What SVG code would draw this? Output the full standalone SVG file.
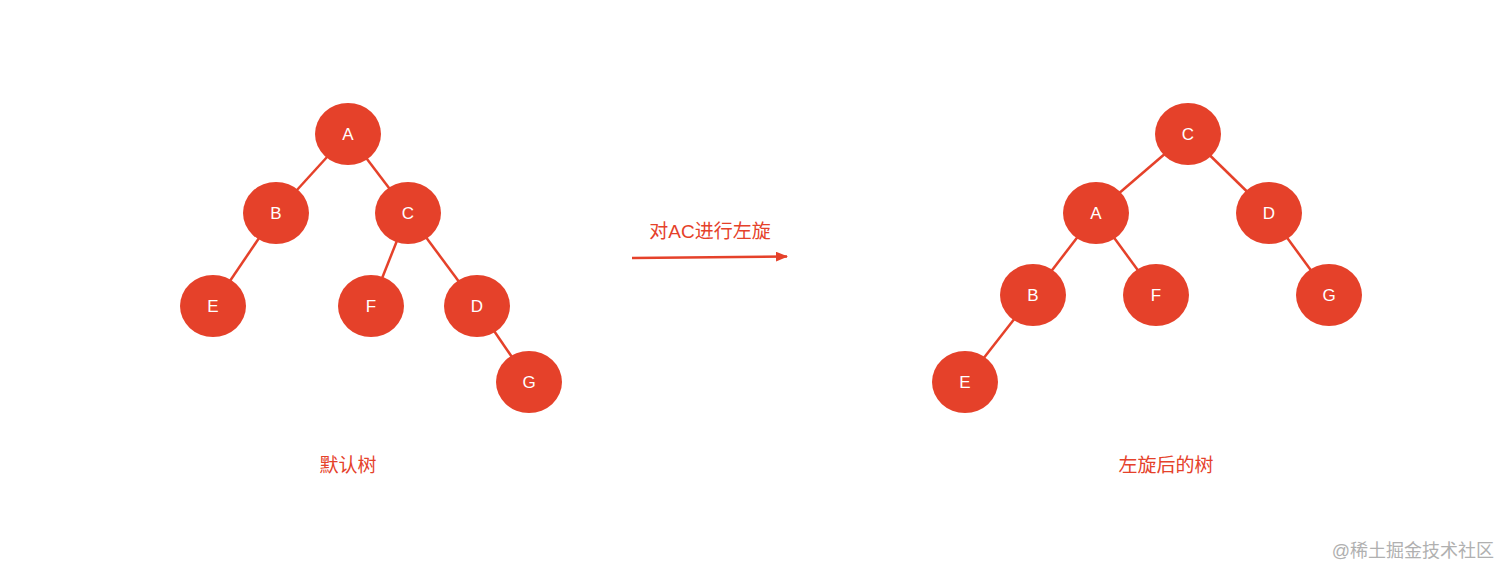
<svg xmlns="http://www.w3.org/2000/svg" width="1512" height="579" viewBox="0 0 1512 579">
<style>
.n ellipse{fill:#E5412A}
.n text{fill:#fff;font-family:"Liberation Sans",Arial,sans-serif;font-size:17px;text-anchor:middle;dominant-baseline:central}
.e line{stroke:#E5412A;stroke-width:2.5}
.lbl{fill:#E5412A;font-family:"Liberation Sans","Noto Sans CJK SC",sans-serif;font-size:19px;text-anchor:middle}
</style>
<defs>
<marker id="ah" markerWidth="12" markerHeight="10" refX="11" refY="5" orient="auto" markerUnits="userSpaceOnUse">
<path d="M0,0 L12,5 L0,10 Z" fill="#E5412A"/>
</marker>
</defs>
<rect width="1512" height="579" fill="#fff"/>
<g id="connectors" class="e">
<line x1="348" y1="134" x2="276" y2="213"/>
<line x1="348" y1="134" x2="408" y2="213"/>
<line x1="276" y1="213" x2="213" y2="306"/>
<line x1="408" y1="213" x2="371" y2="306"/>
<line x1="408" y1="213" x2="477" y2="306"/>
<line x1="477" y1="306" x2="529" y2="382"/>
<line x1="1188" y1="134" x2="1096" y2="213"/>
<line x1="1188" y1="134" x2="1269" y2="213"/>
<line x1="1096" y1="213" x2="1033" y2="295"/>
<line x1="1096" y1="213" x2="1156" y2="295"/>
<line x1="1269" y1="213" x2="1329" y2="295"/>
<line x1="1033" y1="295" x2="965" y2="382"/>
<line x1="632" y1="258" x2="787" y2="256.5" marker-end="url(#ah)"/>
</g>
<g id="L_A" class="n"><ellipse cx="348" cy="134" rx="33" ry="31"/><text x="348" y="134">A</text></g>
<g id="L_B" class="n"><ellipse cx="276" cy="213" rx="33" ry="31"/><text x="276" y="213">B</text></g>
<g id="L_C" class="n"><ellipse cx="408" cy="213" rx="33" ry="31"/><text x="408" y="213">C</text></g>
<g id="L_E" class="n"><ellipse cx="213" cy="306" rx="33" ry="31"/><text x="213" y="306">E</text></g>
<g id="L_F" class="n"><ellipse cx="371" cy="306" rx="33" ry="31"/><text x="371" y="306">F</text></g>
<g id="L_D" class="n"><ellipse cx="477" cy="306" rx="33" ry="31"/><text x="477" y="306">D</text></g>
<g id="L_G" class="n"><ellipse cx="529" cy="382" rx="33" ry="31"/><text x="529" y="382">G</text></g>
<g id="R_C" class="n"><ellipse cx="1188" cy="134" rx="33" ry="31"/><text x="1188" y="134">C</text></g>
<g id="R_A" class="n"><ellipse cx="1096" cy="213" rx="33" ry="31"/><text x="1096" y="213">A</text></g>
<g id="R_D" class="n"><ellipse cx="1269" cy="213" rx="33" ry="31"/><text x="1269" y="213">D</text></g>
<g id="R_B" class="n"><ellipse cx="1033" cy="295" rx="33" ry="31"/><text x="1033" y="295">B</text></g>
<g id="R_F" class="n"><ellipse cx="1156" cy="295" rx="33" ry="31"/><text x="1156" y="295">F</text></g>
<g id="R_G" class="n"><ellipse cx="1329" cy="295" rx="33" ry="31"/><text x="1329" y="295">G</text></g>
<g id="R_E" class="n"><ellipse cx="965" cy="382" rx="33" ry="31"/><text x="965" y="382">E</text></g>
<text class="lbl" x="710" y="238">对AC进行左旋</text>
<text class="lbl" x="348" y="472">默认树</text>
<text class="lbl" x="1166" y="472">左旋后的树</text>
<text x="1494" y="557" style="fill:#b0b0b0;font-family:'Liberation Sans','Noto Sans CJK SC',sans-serif;font-size:18px;text-anchor:end">@稀土掘金技术社区</text>
</svg>
